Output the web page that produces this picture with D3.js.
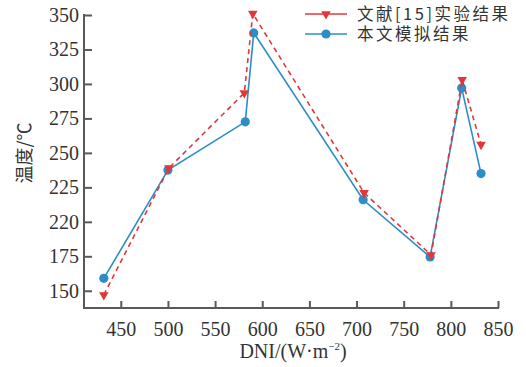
<!DOCTYPE html>
<html>
<head>
<meta charset="utf-8">
<script src="https://cdn.jsdelivr.net/npm/d3@7"></script>
<style>
  html, body { margin: 0; padding: 0; background: #fff; }
  svg { display: block; }
  .tick text { font-family: "Liberation Serif", "DejaVu Serif", serif !important; }
</style>
</head>
<body>
<svg id="chart" width="526" height="367"></svg>
<script>
// DNI values (W·m^-2) for each operating point
const dniExp = [432, 501, 581, 590, 708, 779, 812, 832];
const tempExp = [147, 239, 293.5, 351, 221, 176, 303, 256];
const dniSim = [432, 500, 582, 591, 707, 778, 811.5, 832];
const tempSim = [159, 237.5, 272.5, 337, 216, 174.5, 297, 235];

const seriesNames = ["文献[15]实验结果", "本文模拟结果"];
const xTickValues = [450, 500, 550, 600, 650, 700, 750, 800, 850];
const yTickValues = [150, 175, 200, 225, 250, 275, 300, 325, 350];
const yTickLabels = ["150", "175", "220", "225", "250", "275", "300", "325", "350"];

const red = "#e0383a";
const blue = "#2c8ec6";
const axisColor = "#595959";
const serif = "Liberation Serif";
const cjk = "Noto Sans CJK SC";

const svg = d3.select("#chart");

const x = d3.scaleLinear().domain([411, 850]).range([84, 498]);
const y = d3.scaleLinear().domain([137.5, 350]).range([308, 15]);

// Axes with inward ticks
const xAxis = d3.axisBottom(x).tickValues(xTickValues).tickSizeInner(-7).tickSizeOuter(0).tickPadding(14);
const yAxis = d3.axisLeft(y).tickValues(yTickValues).tickSizeInner(-8).tickSizeOuter(0).tickPadding(5)
  .tickFormat((d, i) => yTickLabels[i]);

const gx = svg.append("g").attr("transform", "translate(0,308)").call(xAxis);
const gy = svg.append("g").attr("transform", "translate(84,0)").call(yAxis);

[gx, gy].forEach(g => {
  g.attr("font-family", serif).attr("font-size", 20);
  g.select(".domain").attr("stroke", axisColor).attr("stroke-width", 2);
  g.selectAll(".tick line").attr("stroke", axisColor).attr("stroke-width", 2);
  g.selectAll(".tick text").attr("fill", "#333").attr("font-family", serif).attr("font-size", 20);
});
// extend axis lines so they meet at the corner
gx.select(".domain").attr("d", `M${x.range()[0] - 1},0H${x.range()[1] + 1}`);
gy.select(".domain").attr("d", `M0,${y.range()[1] - 1}V${y.range()[0] + 1}`);

const line = d3.line().x(d => x(d[0])).y(d => y(d[1]));
const simPts = dniSim.map((d, i) => [d, tempSim[i]]);
const expPts = dniExp.map((d, i) => [d, tempExp[i]]);

// Simulation series
svg.append("path").datum(simPts).attr("d", line)
  .attr("fill", "none").attr("stroke", blue).attr("stroke-width", 1.6);
svg.selectAll("circle.sim").data(simPts).enter().append("circle")
  .attr("class", "sim").attr("cx", d => x(d[0])).attr("cy", d => y(d[1]))
  .attr("r", 4.6).attr("fill", blue);

// Experimental series
const tri = d3.symbol().type(d3.symbolTriangle).size(40);
svg.append("path").datum(expPts).attr("d", line)
  .attr("fill", "none").attr("stroke", red).attr("stroke-width", 1.6)
  .attr("stroke-dasharray", "5,4");
svg.selectAll("path.exp").data(expPts).enter().append("path")
  .attr("class", "exp").attr("d", tri)
  .attr("transform", d => `translate(${x(d[0])},${y(d[1])}) rotate(180)`)
  .attr("fill", red);

// Legend
const legend = svg.append("g");
const legendRows = [
  { name: seriesNames[0], color: red, marker: "tri", y: 14 },
  { name: seriesNames[1], color: blue, marker: "circle", y: 34 }
];
legendRows.forEach(r => {
  legend.append("line").attr("x1", 305).attr("x2", 347).attr("y1", r.y).attr("y2", r.y)
    .attr("stroke", r.color).attr("stroke-width", 1.6);
  if (r.marker === "tri") {
    legend.append("path").attr("d", tri)
      .attr("transform", `translate(326,${r.y}) rotate(180)`).attr("fill", r.color);
  } else {
    legend.append("circle").attr("cx", 326).attr("cy", r.y).attr("r", 4.6).attr("fill", r.color);
  }
  legend.append("text").attr("x", 357).attr("y", r.y).attr("dy", "0.36em")
    .attr("fill", "#333").attr("font-family", cjk).attr("font-size", 16.5)
    .attr("letter-spacing", 2.5).text(r.name);
});

// Axis titles
svg.append("text")
  .attr("transform", "translate(31,153) rotate(-90)")
  .attr("text-anchor", "middle").attr("fill", "#333")
  .attr("font-family", cjk).attr("font-size", 18)
  .text("温度/℃");

const xt = svg.append("text").attr("x", 293).attr("y", 358).attr("text-anchor", "middle")
  .attr("fill", "#333").attr("font-family", serif).attr("font-size", 20);
xt.append("tspan").text("DNI/(W·m");
xt.append("tspan").attr("dy", -8).attr("font-size", 11).text("−2");
xt.append("tspan").attr("dy", 8).text(")");
</script>
</body>
</html>
